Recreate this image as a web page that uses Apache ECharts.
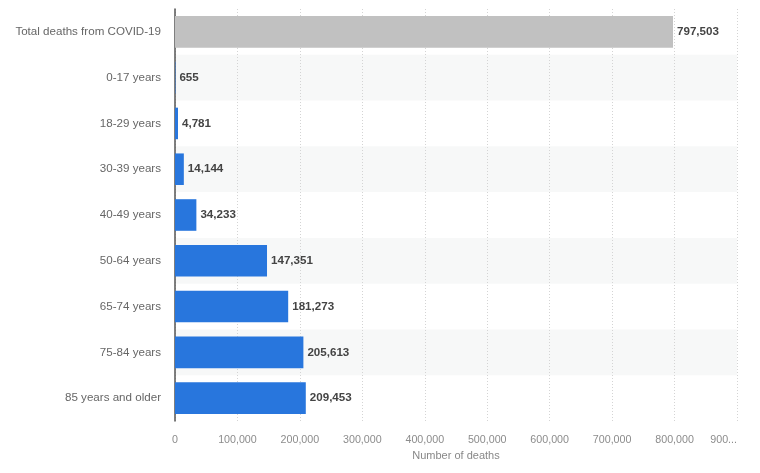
<!DOCTYPE html>
<html><head><meta charset="utf-8">
<script src="https://cdn.jsdelivr.net/npm/echarts@6/dist/echarts.min.js"></script>
<style>html,body{margin:0;padding:0;background:#fff}#c{width:760px;height:473px}</style>
</head><body><div id="c"></div>
<script>
const categories = ['Total deaths from COVID-19','0-17 years','18-29 years','30-39 years','40-49 years','50-64 years','65-74 years','75-84 years','85 years and older'];
const deaths = [797503,655,4781,14144,34233,147351,181273,205613,209453];
const tickLabels = ['0','100,000','200,000','300,000','400,000','500,000','600,000','700,000','800,000','900...'];
const FONT = '"Liberation Sans", Arial, sans-serif';
const chart = echarts.init(document.getElementById('c'));
chart.setOption({
  animation:false,
  grid:{left:175,right:23,top:9,bottom:52,containLabel:false},
  xAxis:{type:'value',min:0,max:900000,interval:100000,
    name:'Number of deaths',nameLocation:'middle',nameGap:28,
    nameTextStyle:{color:'#888',fontSize:11,fontFamily:FONT},
    axisLine:{show:false},axisTick:{show:false},
    axisLabel:{color:'#8c8c8c',fontSize:10.7,fontFamily:FONT,margin:14,alignMaxLabel:'right',
      formatter:(v)=>tickLabels[Math.round(v/100000)]},
    splitLine:{show:true,lineStyle:{color:'#d4d4d4',type:[1,2],width:1}}},
  yAxis:{type:'category',data:categories,inverse:true,
    axisLine:{show:true,lineStyle:{color:'#555',width:1.5}},
    axisTick:{show:false},
    axisLabel:{color:'#666',fontSize:11.6,fontFamily:FONT,margin:14},
    splitArea:{show:true,areaStyle:{color:['rgba(255,255,255,0)','#f7f8f8']}}},
  series:[{type:'bar',barWidth:'69%',
    data:deaths.map((v,i)=>({value:v,itemStyle:{color:i===0?'#c1c1c1':'#2876dd'}})),
    label:{show:true,position:'right',distance:4,color:'#444',fontWeight:'bold',fontSize:11.6,fontFamily:FONT,
      formatter:(p)=>p.value.toLocaleString('en-US')}}]
});
</script></body></html>
